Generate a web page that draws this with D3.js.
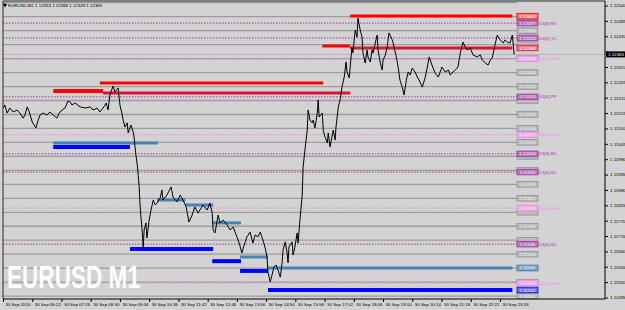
<!DOCTYPE html>
<html>
<head>
<meta charset="utf-8">
<script src="https://cdn.jsdelivr.net/npm/d3@7"></script>
<style>
  body { margin: 0; background: #d3d3d3; }
  svg { display: block; }
  text { font-family: "Liberation Sans", Arial, sans-serif; }
</style>
</head>
<body>
<div id="chart"></div>
<script>
// EURUSD M1, 30 Sep 2016 - line of closes
var times = ["05:18","05:22","05:27","05:33","05:40","05:49","05:55","06:02","06:06","06:11","06:15","06:22","06:30","06:35","06:39","06:46","06:54","07:01","07:08","07:16",
  "07:21","07:27","07:34","07:40","07:45","07:49","07:56","08:07","08:18","08:29","08:35","08:44","08:50","08:57","09:04","09:08","09:12","09:19","09:23","09:30",
  "09:34","09:39","09:41","09:45","09:50","09:52","09:58","10:03","10:05","10:07","10:09","10:12","10:14","10:16","10:18","10:20","10:22","10:25","10:27","10:31",
  "10:33","10:38","10:42","10:47","10:51","10:55","11:02","11:06","11:08","11:17","11:26","11:30","11:39","11:46","11:52","11:59","12:05","12:12","12:18","12:25",
  "12:29","12:36","12:45","12:51","12:56","12:58","13:02","13:07","13:09","13:13","13:20","13:29","13:35","13:42","13:50","13:55","14:01","14:04","14:12","14:19",
  "14:25","14:30","14:36","14:41","14:47","14:52","14:56","14:58","15:03","15:07","15:11","15:16","15:20","15:25","15:29","15:31","15:36","15:40","15:42","15:44",
  "15:51","15:53","15:57","16:02","16:04","16:08","16:13","16:15","16:19","16:24","16:26","16:30","16:35","16:37","16:41","16:46","16:48","16:50","16:57","16:59",
  "17:03","17:08","17:10","17:14","17:18","17:21","17:25","17:27","17:32","17:36","17:40","17:45","17:49","17:51","17:56","17:58","18:02","18:04","18:09","18:13",
  "18:15","18:20","18:24","18:26","18:31","18:35","18:37","18:42","18:46","18:48","18:53","18:57","18:59","19:04","19:08","19:10","19:15","19:19","19:23","19:30",
  "19:32","19:39","19:43","19:47","19:52","19:56","20:01","20:05","20:09","20:14","20:20","20:25","20:31","20:36","20:42","20:47","20:51","20:57","21:04","21:11",
  "21:19","21:26","21:33","21:37","21:43","21:48","21:54","21:59","22:05","22:10","22:14","22:21","22:27","22:36","22:43","22:47","22:54","23:00","23:05","23:09",
  "23:15","23:20","23:26","23:33","23:37","23:42","23:48","23:53","23:57"];
var closes = [1.12173,1.12184,1.12155,1.12173,1.12159,1.12166,1.12155,1.12137,1.12148,1.12177,1.12162,1.12123,1.12102,1.12130,1.12148,1.12155,1.12148,1.12159,1.12148,1.12137,
  1.12155,1.12166,1.12173,1.12198,1.12195,1.12184,1.12191,1.12177,1.12173,1.12177,1.12166,1.12173,1.12159,1.12173,1.12191,1.12166,1.12220,1.12252,1.12230,1.12245,
  1.12184,1.12148,1.12130,1.12105,1.12120,1.12084,1.12112,1.12087,1.12069,1.12034,1.12005,1.11969,1.11933,1.11891,1.11826,1.11783,1.11747,1.11676,1.11737,1.11762,
  1.11708,1.11772,1.11808,1.11844,1.11826,1.11833,1.11851,1.11880,1.11844,1.11862,1.11891,1.11855,1.11837,1.11862,1.11844,1.11819,1.11765,1.11790,1.11819,1.11797,
  1.11808,1.11826,1.11808,1.11833,1.11797,1.11737,1.11726,1.11772,1.11790,1.11762,1.11772,1.11754,1.11737,1.11747,1.11712,1.11690,1.11654,1.11672,1.11712,1.11729,
  1.11690,1.11719,1.11712,1.11729,1.11701,1.11672,1.11640,1.11586,1.11551,1.11576,1.11604,1.11611,1.11593,1.11568,1.11619,1.11665,1.11694,1.11654,1.11619,1.11676,
  1.11694,1.11647,1.11676,1.11726,1.11690,1.11772,1.11862,1.11962,1.12023,1.12094,1.12166,1.12130,1.12120,1.12130,1.12102,1.12155,1.12202,1.12141,1.12155,1.12094,
  1.12069,1.12048,1.12084,1.12034,1.12069,1.12094,1.12059,1.12105,1.12177,1.12202,1.12248,1.12284,1.12338,1.12302,1.12281,1.12320,1.12391,1.12370,1.12452,1.12427,
  1.12495,1.12452,1.12427,1.12370,1.12334,1.12381,1.12356,1.12338,1.12381,1.12370,1.12406,1.12434,1.12381,1.12334,1.12309,1.12345,1.12363,1.12391,1.12442,1.12417,
  1.12406,1.12356,1.12320,1.12273,1.12248,1.12220,1.12273,1.12302,1.12291,1.12316,1.12302,1.12284,1.12266,1.12248,1.12281,1.12320,1.12356,1.12327,1.12298,1.12284,
  1.12320,1.12302,1.12309,1.12291,1.12302,1.12309,1.12320,1.12370,1.12409,1.12391,1.12381,1.12388,1.12363,1.12356,1.12363,1.12345,1.12334,1.12327,1.12345,1.12352,
  1.12399,1.12434,1.12417,1.12406,1.12417,1.12409,1.12406,1.12434,1.12365];

var symbolTitle = "EURUSD,M1";
var ohlc = [1.12353, 1.12368, 1.12349, 1.12365];
var bid = 1.12365;

var xTickTimes = ["05:18","06:22","07:26","08:30","09:34","10:38","11:42","12:46","13:50","14:54","15:58","17:02","18:06","19:10","20:14","21:18","22:22","23:26"];
var xTickLabels = ["30 Sep 2016","30 Sep 06:22","30 Sep 07:26","30 Sep 08:30","30 Sep 09:34","30 Sep 10:38","30 Sep 11:42","30 Sep 12:46","30 Sep 13:50",
  "30 Sep 14:54","30 Sep 15:58","30 Sep 17:02","30 Sep 18:06","30 Sep 19:10","30 Sep 20:14","30 Sep 21:18","30 Sep 22:22","30 Sep 23:26"];
var yTicks = [1.12540,1.12485,1.12430,1.12375,1.12320,1.12265,1.12210,1.12155,1.12100,1.12045,1.11990,1.11935,1.11880,1.11825,1.11770,1.11715,1.11660,1.11605,1.11550,1.11495];

// round-number levels
var roundLevels = [1.1255,1.1250,1.1245,1.1240,1.1235,1.1230,1.1225,1.1220,1.1215,1.1210,1.1205,1.1200,1.1195,1.1190,1.1185,1.1180,1.1175,1.1170,1.1165,1.1160,1.1155,1.1150];

// daily pivots D1[0]
var pivotNames = ["R1","TC","mR1","PP","mS1","BC","S1","mS2","S2","mS3"];
var pivotPrices = [1.12477,1.12424,1.12349,1.12213,1.12077,1.12009,1.11944,1.11815,1.11686,1.11547];

// supply / demand zones
var zoneKinds = ["supplyStrong","supplyTested","supply","supply","supplyTested","supply",
  "demandStrong","demandWeak","demandWeak","demandWeak","demandWeak","demandStrong","demandWeak","demandStrong","demandStrong","demandWeak","demandStrong"];
var zoneFrom = ["07:08","08:57","08:50","16:57","17:58","17:58",
  "07:08","07:08","10:55","11:57","12:56","09:56","13:57","12:56","13:57","14:58","14:58"];
var zoneTo = ["08:57","17:58","16:59","17:58","23:53","23:53",
  "09:56","10:57","11:57","12:58","13:59","12:58","14:58","13:59","14:58","23:53","23:53"];
var zonePrice = [1.12234,1.12227,1.12263,1.12395,1.12388,1.12502,
  1.12034,1.12048,1.11844,1.11826,1.11762,1.11669,1.11640,1.11625,1.11590,1.11601,1.11522];

var W = 625, H = 310;
var plotL = 3, plotR = 605, plotT = 1, plotB = 299;

function toMin(s) { var p = s.split(":"); return +p[0] * 60 + +p[1]; }
var fmt = d3.format(".5f");

var x = d3.scaleLinear().domain([toMin("05:18"), toMin("23:26")]).range([3, 500]);
var y = d3.scaleLinear().domain([1.11495, 1.12540]).range([297.5, 5.5]);

var zoneStyle = {
  supplyStrong: { color: "#ff0000", width: 4 },
  supplyTested: { color: "#dc143c", width: 3 },
  supply: { color: "#ff0000", width: 3 },
  demandStrong: { color: "#0000ff", width: 4 },
  demandWeak: { color: "#4682b4", width: 3 }
};
var pivotColor = function (n) { return n.charAt(0) === "m" ? "#ee82ee" : "#a030a0"; };

var svg = d3.select("#chart").append("svg")
  .attr("width", W).attr("height", H);

svg.append("rect").attr("width", W).attr("height", H).attr("fill", "#d3d3d3");

svg.append("clipPath").attr("id", "clip").append("rect")
  .attr("x", plotL).attr("y", plotT).attr("width", plotR - plotL).attr("height", plotB - plotT);
var inner = svg.append("g").attr("clip-path", "url(#clip)");

var labelX = 517;

// round levels
inner.selectAll(".lvl").data(roundLevels).enter().append("line")
  .attr("x1", plotL).attr("x2", labelX)
  .attr("y1", d => y(d)).attr("y2", d => y(d))
  .attr("stroke", "#9c9c9c").attr("stroke-width", 1.3);

// pivots
inner.selectAll(".pv").data(pivotPrices).enter().append("line")
  .attr("x1", plotL).attr("x2", labelX)
  .attr("y1", d => y(d)).attr("y2", d => y(d))
  .attr("stroke", (d, i) => pivotColor(pivotNames[i]))
  .attr("stroke-width", 1).attr("stroke-dasharray", "1.5,1.5");

// watermark
svg.append("text")
  .attr("x", 7).attr("y", 288)
  .attr("font-size", 31).attr("font-weight", "bold")
  .attr("textLength", 133).attr("lengthAdjust", "spacingAndGlyphs")
  .attr("fill", "#ffffff")
  .text("EURUSD M1");

// zones
inner.selectAll(".zone").data(zonePrice).enter().append("line")
  .attr("x1", (d, i) => x(toMin(zoneFrom[i])))
  .attr("x2", (d, i) => x(toMin(zoneTo[i])))
  .attr("y1", d => y(d)).attr("y2", d => y(d))
  .attr("stroke", (d, i) => zoneStyle[zoneKinds[i]].color)
  .attr("stroke-width", (d, i) => zoneStyle[zoneKinds[i]].width);

// bid line
inner.append("line")
  .attr("x1", plotL).attr("x2", plotR)
  .attr("y1", y(bid)).attr("y2", y(bid))
  .attr("stroke", "#b4b4b4").attr("stroke-width", 1);

// price line
var line = d3.line()
  .x((d, i) => x(toMin(times[i])))
  .y(d => y(d));
inner.append("path")
  .datum(closes)
  .attr("d", line)
  .attr("fill", "none")
  .attr("stroke", "#000")
  .attr("stroke-width", 1);

// right-hand price tags; grey ones hidden behind a coloured tag keep only their box
var colouredTagY = pivotPrices.map(y)
  .concat(zonePrice.filter((d, i) => zoneTo[i] === "23:53").map(y));
function tag(price, stroke, fill, textColor, showText) {
  var g = svg.append("g").attr("transform", "translate(" + labelX + "," + y(price) + ")");
  g.append("rect").attr("x", 0).attr("y", -2.8).attr("width", 21).attr("height", 5.6)
    .attr("fill", fill).attr("stroke", stroke).attr("stroke-width", 0.8);
  if (showText) {
    g.append("text").attr("x", 10.5).attr("y", 1.6).attr("text-anchor", "middle")
      .attr("font-size", 4.4).attr("fill", textColor).text(fmt(price));
  }
}
roundLevels.forEach(function (d) {
  if (y(d) <= plotT + 2) return;
  var hidden = colouredTagY.some(v => Math.abs(v - y(d)) < 5.6);
  tag(d, "#8e8e8e", "#bdbdbd", "#f0f0f0", !hidden);
});
pivotPrices.forEach(function (d, i) {
  var c = pivotColor(pivotNames[i]);
  tag(d, c, pivotNames[i].charAt(0) === "m" ? "#e6b3e6" : "#b77ab7", "#f4e8f4", true);
  svg.append("text").attr("x", labelX + 22).attr("y", y(d) + 1.6)
    .attr("font-size", 4.4).attr("fill", c).text("D1[0] " + pivotNames[i]);
});
zonePrice.forEach(function (d, i) {
  if (zoneTo[i] !== "23:53") return;
  var c = zoneStyle[zoneKinds[i]].color;
  tag(d, c, c === "#ff0000" ? "#f08080" : c === "#dc143c" ? "#e87890" : c === "#0000ff" ? "#6f6fff" : "#7fa5c9", "#ffffff", true);
});

// frame
svg.append("line").attr("x1", plotL).attr("x2", plotL).attr("y1", plotT).attr("y2", plotB).attr("stroke", "#000").attr("stroke-width", 0.8);
svg.append("line").attr("x1", plotL).attr("x2", plotR).attr("y1", plotT).attr("y2", plotT).attr("stroke", "#000").attr("stroke-width", 0.8);

// right axis; the tick under the bid marker keeps its mark only
var yAxis = svg.append("g").attr("transform", "translate(" + plotR + ",0)")
  .call(d3.axisRight(y).tickValues(yTicks).tickSize(3).tickPadding(2)
    .tickFormat(d => Math.abs(y(d) - y(bid)) < 6 ? "" : fmt(d)));
yAxis.select(".domain").attr("d", "M0," + plotT + "V" + plotB).attr("stroke", "#000");
yAxis.selectAll("text").attr("font-size", 4.4).attr("font-family", "Liberation Sans, Arial, sans-serif").attr("fill", "#000");

// bottom axis
var xAxis = svg.append("g").attr("transform", "translate(0," + plotB + ")")
  .call(d3.axisBottom(x).tickValues(xTickTimes.map(toMin)).tickSize(3)
    .tickFormat((d, i) => xTickLabels[i]));
xAxis.select(".domain").attr("d", "M" + plotL + ",0H" + plotR).attr("stroke", "#000");
xAxis.selectAll("text").attr("font-size", 4.4).attr("font-family", "Liberation Sans, Arial, sans-serif")
  .attr("text-anchor", "start").attr("x", 2).attr("y", 4).attr("dy", "0.71em").attr("fill", "#000");

// current price marker
var cp = svg.append("g").attr("transform", "translate(" + (plotR + 1) + "," + y(bid) + ")");
cp.append("rect").attr("x", 0).attr("y", -3).attr("width", 20).attr("height", 6).attr("fill", "#000");
cp.append("text").attr("x", 2).attr("y", 1.6).attr("font-size", 4.4).attr("fill", "#fff").text(fmt(bid));

// title
svg.append("path").attr("d", d3.symbol(d3.symbolTriangle, 8)()).attr("transform", "translate(5,5) rotate(180)").attr("fill", "#000");
svg.append("text").attr("x", 8).attr("y", 6.5).attr("font-size", 4.4).attr("fill", "#000")
  .text(symbolTitle + "  " + ohlc.map(fmt).join(" "));
</script>
</body>
</html>
